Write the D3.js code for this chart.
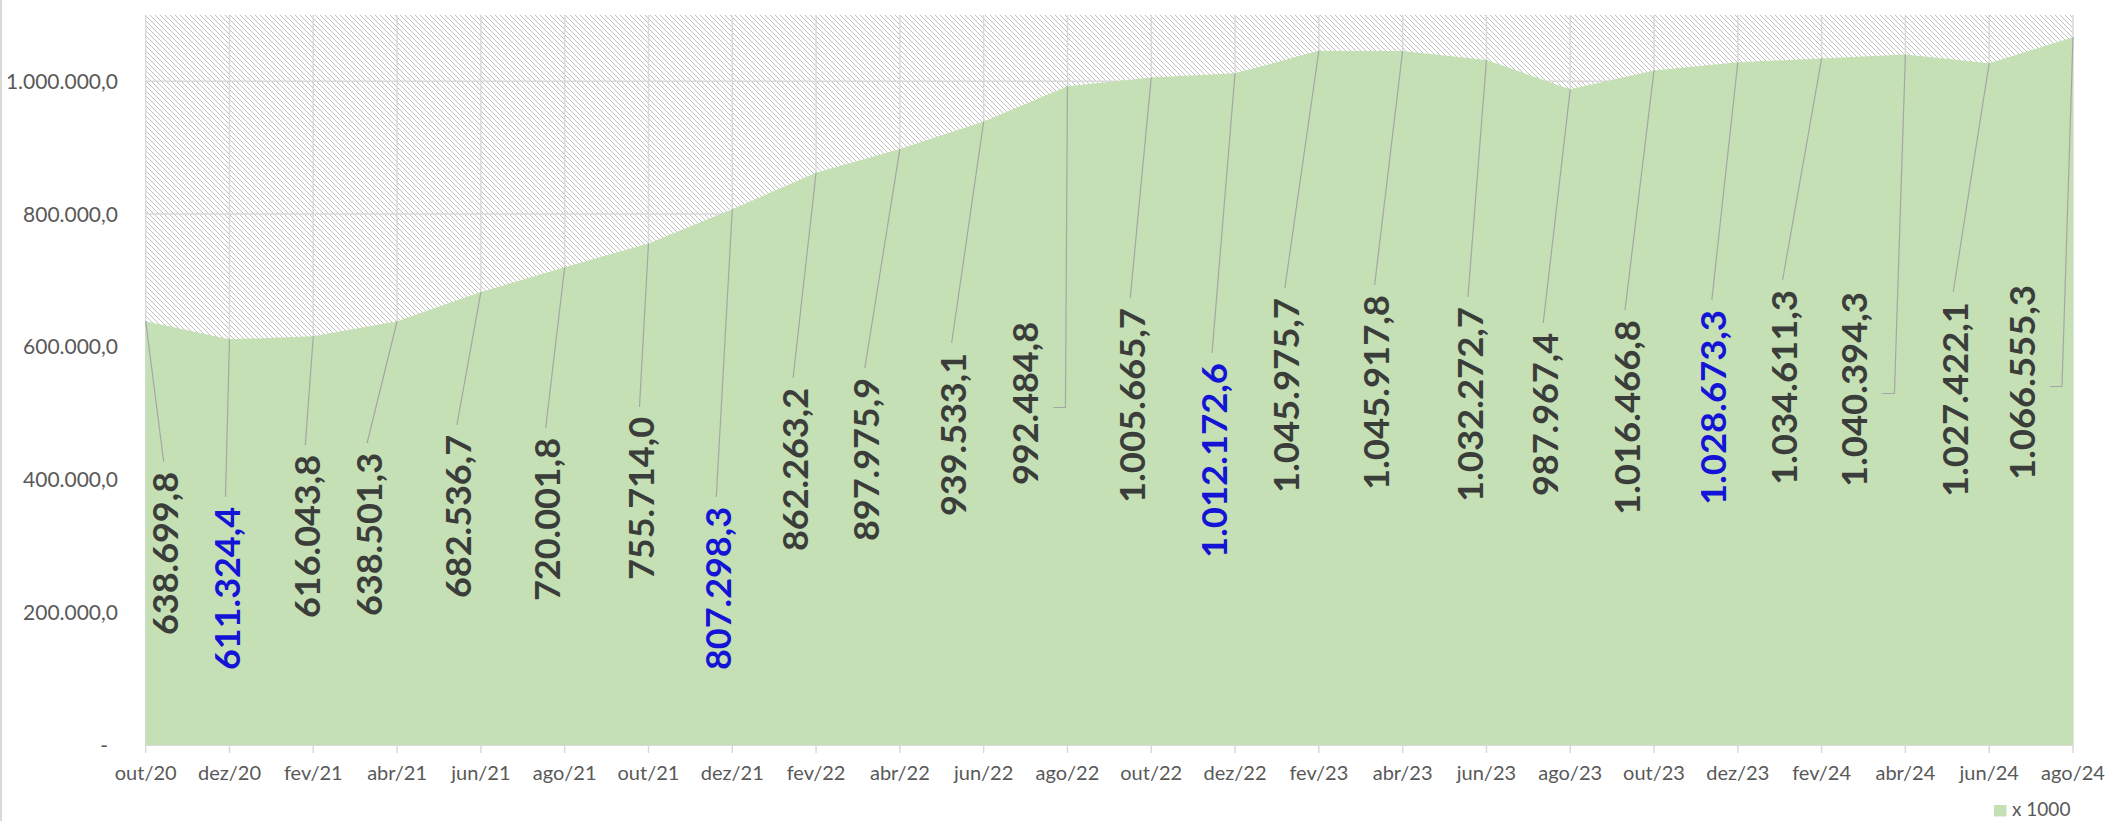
<!DOCTYPE html>
<html>
<head>
<meta charset="utf-8">
<script src="https://cdn.jsdelivr.net/npm/d3@7"></script>
<style>
  html, body { margin: 0; padding: 0; background: #ffffff; }
  svg { display: block; }
</style>
</head>
<body>
<script>
// ---------------- DATA ----------------
const categories = ["out/20","dez/20","fev/21","abr/21","jun/21","ago/21","out/21","dez/21",
  "fev/22","abr/22","jun/22","ago/22","out/22","dez/22","fev/23","abr/23","jun/23","ago/23",
  "out/23","dez/23","fev/24","abr/24","jun/24","ago/24"];
const values = [638699.8, 611324.4, 616043.8, 638501.3, 682536.7, 720001.8, 755714.0, 807298.3,
  862263.2, 897975.9, 939533.1, 992484.8, 1005665.7, 1012172.6, 1045975.7, 1045917.8, 1032272.7,
  987967.4, 1016466.8, 1028673.3, 1034611.3, 1040394.3, 1027422.1, 1066555.3];
const highlighted = ["dez/20","dez/21","dez/22","dez/23"];
const yTicks = [0, 200000, 400000, 600000, 800000, 1000000];
const yMax = 1100000;
const seriesName = "x 1000";

// ---------------- LAYOUT (label placement, px) ----------------
const labelDx  = [20,-2,-6,-28,-22,-17,-7,-14,-21,-33,-30,-42,-19,-21,-32,-26,-16.5,-25,-27,-24,-37,-51,-34,-51];
const labelTop = [472,507,455,453,435,438,417,507,388,378,353,322,308,363,298,295,307,333,320,310,290,292,302,285];
const elbowLabels = [11, 21, 23];

// ---------------- CHART ----------------
const W = 2110, H = 821;
const plot = {left: 145.7, right: 2073, top: 15, bottom: 745};

const locale = d3.formatLocale({decimal: ",", thousands: ".", grouping: [3], currency: ["R$", ""]});
const fmt = locale.format(",.1f");

const svg = d3.select("body").append("svg").attr("width", W).attr("height", H);

const defs = svg.append("defs");
const pat = defs.append("pattern").attr("id", "hatch")
  .attr("patternUnits", "userSpaceOnUse").attr("width", 5).attr("height", 5);
pat.append("rect").attr("width", 5).attr("height", 5).attr("fill", "#ffffff");
pat.append("path").attr("d", "M0,0 L5,5 M-1,4 L1,6 M4,-1 L6,1")
  .attr("stroke", "#b8b8b8").attr("stroke-width", 0.9);

const x = d3.scalePoint().domain(categories).range([plot.left, plot.right]);
const y = d3.scaleLinear().domain([0, yMax]).range([plot.bottom, plot.top]);

// chart-area left border
svg.append("line").attr("x1", 1).attr("x2", 1).attr("y1", 0).attr("y2", H)
  .attr("stroke", "#d9d9d9").attr("stroke-width", 2);

// plot background hatch
svg.append("rect").attr("x", plot.left).attr("y", plot.top)
  .attr("width", plot.right - plot.left).attr("height", plot.bottom - plot.top)
  .attr("fill", "url(#hatch)");

// gridlines
svg.append("g").selectAll("line").data(yTicks.filter(d => d > 0)).join("line")
  .attr("x1", plot.left).attr("x2", plot.right)
  .attr("y1", d => y(d)).attr("y2", d => y(d))
  .attr("stroke", "#d9d9d9").attr("stroke-width", 1.5);
svg.append("g").selectAll("line").data(categories).join("line")
  .attr("x1", d => x(d)).attr("x2", d => x(d))
  .attr("y1", plot.top).attr("y2", plot.bottom)
  .attr("stroke", "#d9d9d9").attr("stroke-width", 1.5);

// area
const series = categories.map((c, i) => ({cat: c, v: values[i]}));
const area = d3.area().x(d => x(d.cat)).y0(y(0)).y1(d => y(d.v));
svg.append("path").datum(series).attr("d", area).attr("fill", "#c5e0b4");

// x axis line + ticks
svg.append("line").attr("x1", plot.left).attr("x2", plot.right)
  .attr("y1", plot.bottom + 0.5).attr("y2", plot.bottom + 0.5)
  .attr("stroke", "#d9d9d9").attr("stroke-width", 1);
svg.append("g").selectAll("line").data(categories).join("line")
  .attr("x1", d => x(d)).attr("x2", d => x(d))
  .attr("y1", plot.bottom).attr("y2", plot.bottom + 8)
  .attr("stroke", "#d9d9d9").attr("stroke-width", 1.5);

// x labels
svg.append("g").selectAll("text").data(categories).join("text")
  .attr("x", d => x(d)).attr("y", 780)
  .attr("text-anchor", "middle")
  .attr("font-family", "Lato, 'Open Sans', sans-serif").attr("font-size", 20)
  .attr("fill", "#595959").text(d => d);

// y labels
svg.append("g").selectAll("text").data(yTicks).join("text")
  .attr("x", d => d === 0 ? 108 : 118).attr("y", d => y(d))
  .attr("dy", "0.36em").attr("text-anchor", "end")
  .attr("font-family", "Lato, 'Open Sans', sans-serif").attr("font-size", 21)
  .attr("fill", "#595959").text(d => d === 0 ? "-" : fmt(d));

// data labels with leader lines
const labels = series.map((d, i) => {
  const txt = fmt(d.v);
  const nd = (txt.match(/[0-9]/g) || []).length;
  const np = txt.length - nd;
  const len = 19.8 * nd + 12.2 * np;
  const cx = x(d.cat) + labelDx[i];
  const top = labelTop[i];
  return {d, i, txt, len, cx, top, bottom: top + len,
          hl: highlighted.includes(d.cat), elbow: elbowLabels.includes(i)};
});

svg.append("g").selectAll("path").data(labels).join("path")
  .attr("d", l => {
    const px = x(l.d.cat), py = y(l.d.v);
    if (l.elbow) {
      const my = l.top + l.len / 2 + 4;
      return `M${px},${py} L${l.cx + 40},${my} L${l.cx + 28},${my}`;
    }
    return `M${px},${py} L${l.cx - 2},${l.top - 10}`;
  })
  .attr("fill", "none").attr("stroke", "#a6a6a6").attr("stroke-width", 1.2);

svg.append("g").selectAll("text").data(labels).join("text")
  .attr("transform", l => `translate(${l.cx},${l.bottom}) rotate(-90)`)
  .attr("dy", "0.36em")
  .attr("text-anchor", "start")
  .attr("font-family", "Lato, 'Open Sans', sans-serif")
  .attr("font-weight", "bold").attr("font-size", 35)
  .attr("textLength", l => l.len).attr("lengthAdjust", "spacingAndGlyphs")
  .attr("fill", l => l.hl ? "#1414d6" : "#3a3d3a")
  .text(l => l.txt);

// legend
const lg = svg.append("g");
lg.append("rect").attr("x", 1994).attr("y", 805).attr("width", 12.5).attr("height", 11.5)
  .attr("fill", "#c5e0b4");
lg.append("text").attr("x", 2012).attr("y", 816)
  .attr("font-family", "Lato, 'Open Sans', sans-serif").attr("font-size", 19)
  .attr("fill", "#595959").text(seriesName);
</script>
</body>
</html>
